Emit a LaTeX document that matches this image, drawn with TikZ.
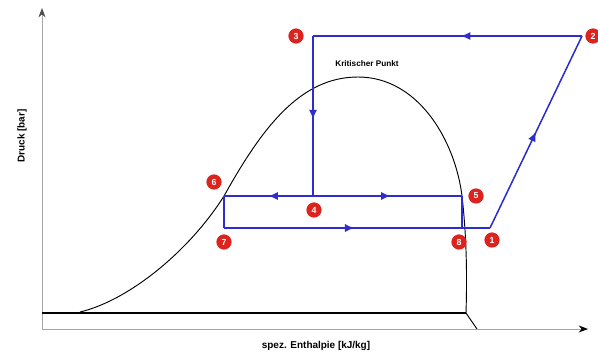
\documentclass[tikz,border=0pt]{standalone}
\usepackage{fontspec}
\setmainfont{Liberation Sans}
\usetikzlibrary{arrows.meta,decorations.markings}
\definecolor{cycblue}{RGB}{45,45,205}
\definecolor{cycred}{RGB}{220,35,30}

\begin{document}
\begin{tikzpicture}[
  x=0.03cm,y=-0.03cm,
  num/.style={circle,fill=cycred,text=white,minimum size=13pt,inner sep=0pt,font=\fontsize{7.5}{7.5}\selectfont\bfseries},
  cyc/.style={draw=cycblue,color=cycblue,line width=1.3pt},
  mid/.style={postaction={decorate},decoration={markings,mark=at position #1 with {\arrow{Latex[length=8pt,width=7pt]}}}},
  >=Stealth]
  \useasboundingbox (0,0) rectangle (598,355);
  % axes
  \draw[gray!70,line width=0.8pt,-{Stealth[length=8pt,width=6pt,black!70]}] (42,330) -- (42,8);
  \draw[gray!70,line width=0.8pt,-{Stealth[length=8pt,width=6pt,black]}] (42,329) -- (588,329);
  \node[rotate=90,font=\fontsize{8.5}{8.5}\selectfont\bfseries] (ylab) at (22,136) {Druck [bar]};
  \node[font=\fontsize{8.5}{8.5}\selectfont\bfseries] (xlab) at (316,346) {spez. Enthalpie [kJ/kg]};
  % saturation dome
  \draw[line width=2pt] (42,313) -- (466,313);
  \draw[line width=0.8pt] (80,312) .. controls (130,300) and (190,250) .. (224,196)
    .. controls (262,128) and (300,77) .. (358,77)
    .. controls (418,77) and (455,140) .. (462,196)
    .. controls (467,240) and (467,280) .. (466,313) -- (477,329);
  \node[font=\fontsize{7}{7}\selectfont\bfseries] (kp) at (367,64) {Kritischer Punkt};
  % cycle points
  \coordinate (p1) at (490,228);
  \coordinate (p2) at (582,36);
  \coordinate (p3) at (313,36);
  \coordinate (p4) at (313,196);
  \coordinate (p5) at (462,196);
  \coordinate (p6) at (224,196);
  \coordinate (p7) at (224,228);
  \coordinate (p8) at (462,228);
  \draw[cyc,mid=0.5] (p1) -- (p2);
  \draw[cyc,mid=0.45] (p2) -- (p3);
  \draw[cyc,mid=0.52] (p3) -- (p4);
  \draw[cyc,mid=0.5] (p4) -- (p6);
  \draw[cyc,mid=0.52] (p4) -- (p5);
  \draw[cyc] (p6) -- (p7);
  \draw[cyc,mid=0.49] (p7) -- (p1);
  \draw[cyc] (p5) -- (p8);
  % point numbers
  \node[num] (n1) at (492,240) {1};
  \node[num] (n2) at (593,36) {2};
  \node[num] (n3) at (296,36) {3};
  \node[num] (n4) at (314,210) {4};
  \node[num] (n5) at (476,196) {5};
  \node[num] (n6) at (214,182) {6};
  \node[num] (n7) at (224,242) {7};
  \node[num] (n8) at (459,242) {8};
\end{tikzpicture}
\end{document}
